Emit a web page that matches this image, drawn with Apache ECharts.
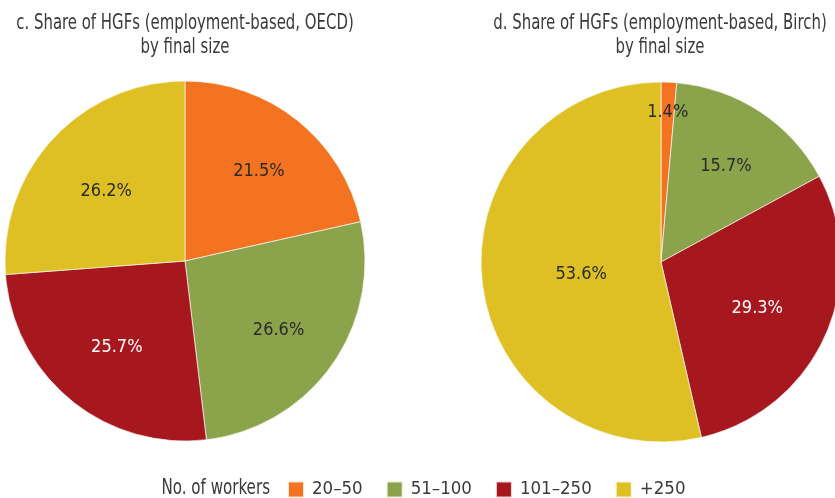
<!DOCTYPE html>
<html>
<head>
<meta charset="utf-8">
<script src="https://cdn.jsdelivr.net/npm/echarts@6/dist/echarts.min.js"></script>
<style>
html,body{margin:0;padding:0;background:#fff;}
#c{width:835px;height:498px;}
</style>
</head>
<body>
<div id="c"></div>
<script>
const categories = ['20–50', '51–100', '101–250', '+250'];
const oecdShares = [21.5, 26.6, 25.7, 26.2];
const birchShares = [1.4, 15.7, 29.3, 53.6];
const titleOecd = 'c. Share of HGFs (employment-based, OECD)\nby final size';
const titleBirch = 'd. Share of HGFs (employment-based, Birch)\nby final size';
const legendTitle = 'No. of workers';

const colors = ['#F47321', '#8BA34A', '#A6181E', '#DEC024'];
const labelColors = ['#2a2a2a', '#2a2a2a', '#ffffff', '#2a2a2a'];
// radial position of labels as a fraction of radius (style)
const labelRadial = [[0.64, 0.62, 0.58, 0.58], [0.83, 0.64, 0.57, 0.43]];
const FONT = "'DejaVu Sans Condensed', 'Liberation Sans Narrow', sans-serif";
const R = 180;

const seriesValues = [oecdShares, birchShares];

function makeData(vals) {
  return vals.map((v, i) => ({
    name: categories[i],
    value: v,
    itemStyle: { color: colors[i] },
    label: { color: labelColors[i] }
  }));
}

function labelShift(params) {
  const s = params.seriesIndex, i = params.dataIndex;
  const vals = seriesValues[s];
  const total = vals.reduce((a, b) => a + b, 0);
  let cum = 0;
  for (let k = 0; k < i; k++) cum += vals[k];
  const mid = (cum + vals[i] / 2) / total * 2 * Math.PI;
  const d = (labelRadial[s][i] - 0.5) * R;
  return { dx: d * Math.sin(mid), dy: -d * Math.cos(mid) + 3 };
}

const chart = echarts.init(document.getElementById('c'), null, { renderer: 'canvas' });

function pieSeries(vals, center) {
  return {
    type: 'pie',
    radius: R,
    center: center,
    startAngle: 90,
    clockwise: true,
    avoidLabelOverlap: false,
    silent: true,
    data: makeData(vals),
    itemStyle: { borderColor: 'rgba(255,255,255,0.8)', borderWidth: 0.8 },
    label: {
      show: true,
      position: 'inside',
      formatter: p => p.value.toFixed(1) + '%',
      fontFamily: FONT,
      fontSize: 18
    },
    labelLine: { show: false },
    labelLayout: labelShift,
    emphasis: { disabled: true }
  };
}

chart.setOption({
  animation: false,
  textStyle: { fontFamily: FONT },
  graphic: [
    { type: 'text', x: 185, y: 12, scaleX: 0.79, style: { text: titleOecd, textAlign: 'center', fill: '#3a3a3a', font: '21px ' + FONT, lineHeight: 23.5 } },
    { type: 'text', x: 660, y: 12, scaleX: 0.79, style: { text: titleBirch, textAlign: 'center', fill: '#3a3a3a', font: '21px ' + FONT, lineHeight: 23.5 } },
    { type: 'text', x: 270, y: 489, scaleX: 0.8, style: { text: legendTitle, textAlign: 'right', textVerticalAlign: 'middle', fill: '#3a3a3a', font: '21px ' + FONT } }
  ],
  legend: {
    data: categories,
    left: 287,
    top: 480,
    orient: 'horizontal',
    itemWidth: 16,
    itemHeight: 16,
    itemGap: 23,
    padding: 0,
    icon: 'rect',
    selectedMode: false,
    textStyle: { fontFamily: FONT, fontSize: 18.5, color: '#3a3a3a', padding: [0, 0, 0, 3] }
  },
  series: [
    pieSeries(oecdShares, [185, 261]),
    pieSeries(birchShares, [661, 262])
  ]
});
</script>
</body>
</html>
